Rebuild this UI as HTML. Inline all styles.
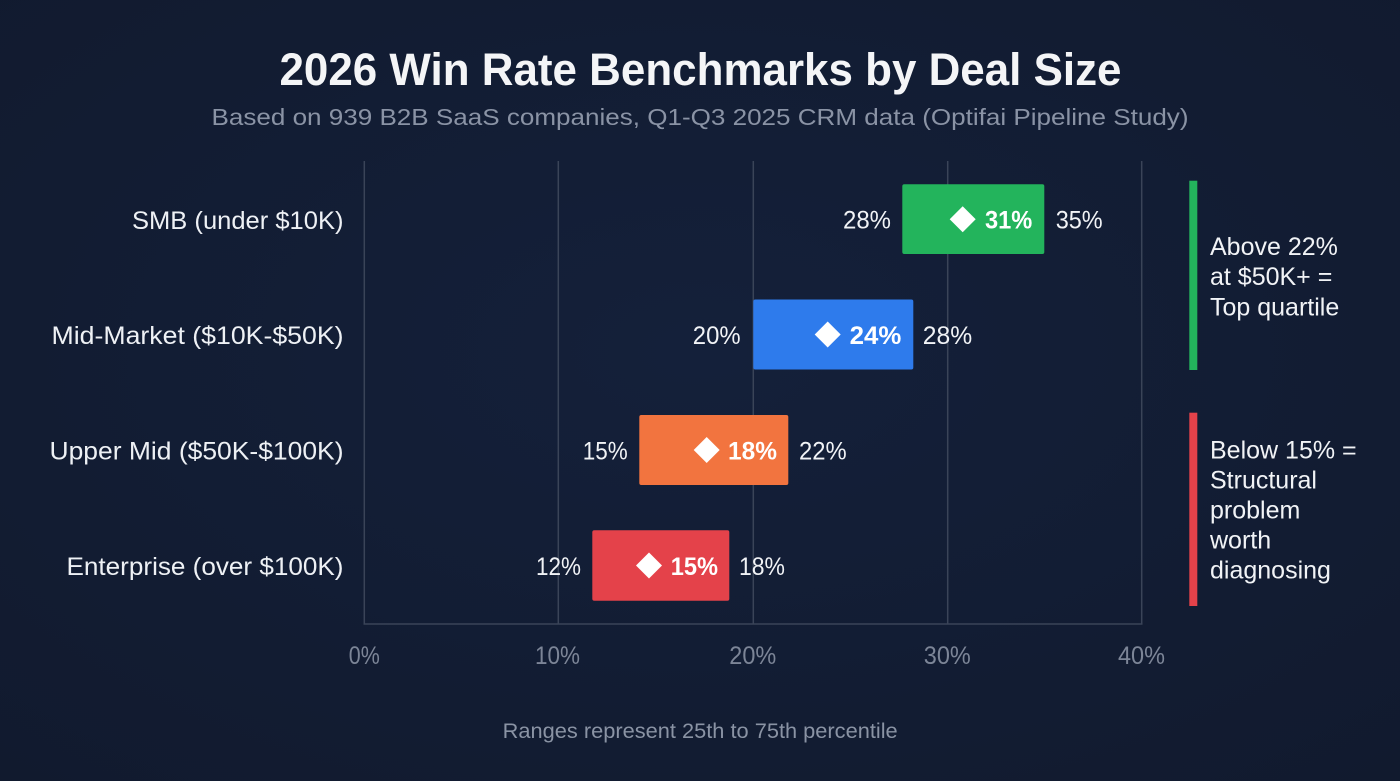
<!DOCTYPE html>
<html>
<head>
<meta charset="utf-8">
<style>
  html, body { margin:0; padding:0; background:#121c32; }
  svg { display:block; }
  text { font-family: "Liberation Sans", "DejaVu Sans", sans-serif; }
</style>
</head>
<body>
<svg width="1400" height="781" viewBox="0 0 1400 781" xmlns="http://www.w3.org/2000/svg">
  <defs>
    <radialGradient id="bg" cx="50%" cy="45%" r="75%">
      <stop offset="0%" stop-color="#14203a"/>
      <stop offset="100%" stop-color="#111a2e"/>
    </radialGradient>
  </defs>
  <rect x="0" y="0" width="1400" height="781" fill="url(#bg)"/>

  <!-- Title -->
  <text x="279.5" y="85" font-size="45" font-weight="bold" fill="#f4f5f7" textLength="842" lengthAdjust="spacingAndGlyphs">2026 Win Rate Benchmarks by Deal Size</text>
  <text x="211.5" y="125" font-size="23" fill="#8a93a5" textLength="977" lengthAdjust="spacingAndGlyphs">Based on 939 B2B SaaS companies, Q1-Q3 2025 CRM data (Optifai Pipeline Study)</text>

  <!-- Grid -->
  <g stroke="#3a4458" stroke-width="1.5" fill="none">
    <line x1="364.3" y1="161" x2="364.3" y2="624"/>
    <line x1="558.3" y1="161" x2="558.3" y2="624"/>
    <line x1="753.3" y1="161" x2="753.3" y2="624"/>
    <line x1="947.7" y1="161" x2="947.7" y2="624"/>
    <line x1="1141.7" y1="161" x2="1141.7" y2="624"/>
    <line x1="363.5" y1="624" x2="1142.5" y2="624"/>
  </g>

  <!-- Axis tick labels -->
  <g font-size="25" fill="#7c8597" text-anchor="middle">
    <text x="364.3" y="664" textLength="31" lengthAdjust="spacingAndGlyphs">0%</text>
    <text x="557.5" y="664" textLength="45" lengthAdjust="spacingAndGlyphs">10%</text>
    <text x="752.8" y="664" textLength="47" lengthAdjust="spacingAndGlyphs">20%</text>
    <text x="947.3" y="664" textLength="47" lengthAdjust="spacingAndGlyphs">30%</text>
    <text x="1141.5" y="664" textLength="47" lengthAdjust="spacingAndGlyphs">40%</text>
  </g>

  <!-- Category labels -->
  <g font-size="25" fill="#eef1f5" text-anchor="end">
    <text x="343.5" y="229" textLength="211.5" lengthAdjust="spacingAndGlyphs">SMB (under $10K)</text>
    <text x="343.5" y="344" textLength="292" lengthAdjust="spacingAndGlyphs">Mid-Market ($10K-$50K)</text>
    <text x="343.5" y="459.5" textLength="294" lengthAdjust="spacingAndGlyphs">Upper Mid ($50K-$100K)</text>
    <text x="343.5" y="575" textLength="277" lengthAdjust="spacingAndGlyphs">Enterprise (over $100K)</text>
  </g>

  <!-- Bars -->
  <rect x="902.3" y="184.3" width="142" height="69.7" rx="2" fill="#23b45c"/>
  <rect x="753.3" y="299.5" width="160" height="70" rx="2" fill="#2e7bec"/>
  <rect x="639.3" y="415" width="149" height="70" rx="2" fill="#f2743f"/>
  <rect x="592.3" y="530.3" width="137" height="70.4" rx="2" fill="#e4424a"/>

  <!-- Diamonds -->
  <g fill="#ffffff">
    <polygon points="962.7,206.2 975.7,219.2 962.7,232.2 949.7,219.2"/>
    <polygon points="827.7,321.5 840.7,334.5 827.7,347.5 814.7,334.5"/>
    <polygon points="706.7,437 719.7,450 706.7,463 693.7,450"/>
    <polygon points="649,552.5 662,565.5 649,578.5 636,565.5"/>
  </g>

  <!-- Inner bold labels -->
  <g font-size="25" font-weight="bold" fill="#ffffff">
    <text x="985" y="228.7" textLength="47.3" lengthAdjust="spacingAndGlyphs">31%</text>
    <text x="849.7" y="344" textLength="51.7" lengthAdjust="spacingAndGlyphs">24%</text>
    <text x="728" y="459.5" textLength="49" lengthAdjust="spacingAndGlyphs">18%</text>
    <text x="670.7" y="575" textLength="47.3" lengthAdjust="spacingAndGlyphs">15%</text>
  </g>

  <!-- Range end labels -->
  <g font-size="25" fill="#f1f3f6">
    <text x="843" y="228.7" textLength="48" lengthAdjust="spacingAndGlyphs">28%</text>
    <text x="1055.7" y="228.7" textLength="47" lengthAdjust="spacingAndGlyphs">35%</text>
    <text x="692.8" y="344" textLength="47.8" lengthAdjust="spacingAndGlyphs">20%</text>
    <text x="922.8" y="344" textLength="49.4" lengthAdjust="spacingAndGlyphs">28%</text>
    <text x="582.7" y="459.5" textLength="45" lengthAdjust="spacingAndGlyphs">15%</text>
    <text x="799" y="459.5" textLength="47.7" lengthAdjust="spacingAndGlyphs">22%</text>
    <text x="536" y="575" textLength="45" lengthAdjust="spacingAndGlyphs">12%</text>
    <text x="739" y="575" textLength="46" lengthAdjust="spacingAndGlyphs">18%</text>
  </g>

  <!-- Annotations -->
  <rect x="1189.3" y="180.7" width="8" height="189.3" fill="#23b45c"/>
  <rect x="1189.3" y="412.7" width="8" height="193.3" fill="#e4424a"/>
  <g font-size="25" fill="#f1f3f6">
    <text x="1210" y="255">Above 22%</text>
    <text x="1210" y="285">at $50K+ =</text>
    <text x="1210" y="315.5">Top quartile</text>
    <text x="1210" y="458.3">Below 15% =</text>
    <text x="1210" y="488.3">Structural</text>
    <text x="1210" y="518.3">problem</text>
    <text x="1210" y="548.3">worth</text>
    <text x="1210" y="578.3">diagnosing</text>
  </g>

  <!-- Footer -->
  <text x="502.7" y="738" font-size="21" fill="#8a93a4" textLength="395" lengthAdjust="spacingAndGlyphs">Ranges represent 25th to 75th percentile</text>
</svg>
</body>
</html>
